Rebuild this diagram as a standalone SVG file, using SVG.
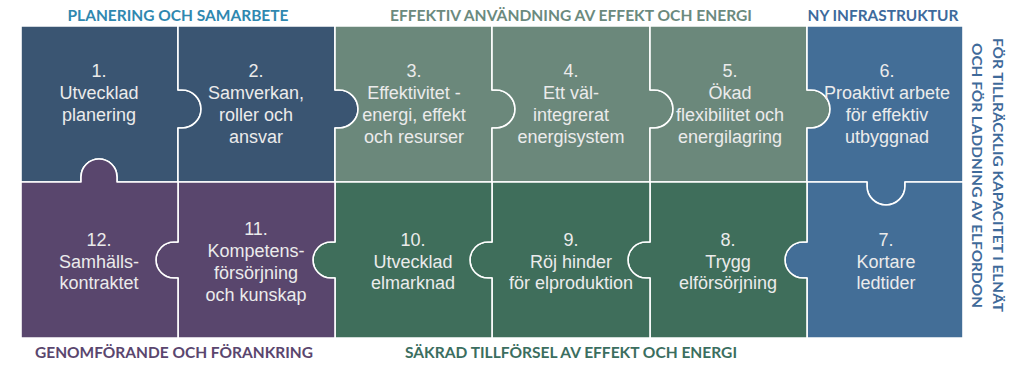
<svg xmlns="http://www.w3.org/2000/svg" width="1011" height="365" viewBox="0 0 1011 365">
<style>
.p{stroke:#ffffff;stroke-width:1.6;stroke-linejoin:round}
.c1{fill:#3a5572}.c2{fill:#6b887b}.c3{fill:#436e97}.c4{fill:#59466d}.c5{fill:#3f6e5b}
.t{font-family:"Liberation Sans",Arial,sans-serif;font-size:18px;fill:#ebebeb;text-anchor:middle}
.h{font-family:Lato,"Liberation Sans",sans-serif;font-weight:700;font-size:14.5px;text-anchor:middle}
.v{font-family:Lato,"Liberation Sans",sans-serif;font-weight:700;font-size:13.5px;text-anchor:middle;fill:#3f6a9a}
</style>
<rect width="1011" height="365" fill="#ffffff"/>
<g id="headers">
<text class="h" x="178" y="20.5" fill="#2f88b0" textLength="221" lengthAdjust="spacingAndGlyphs">PLANERING OCH SAMARBETE</text>
<text class="h" x="571" y="21" fill="#6b8a7e" textLength="362" lengthAdjust="spacingAndGlyphs">EFFEKTIV ANVÄNDNING AV EFFEKT OCH ENERGI</text>
<text class="h" x="883" y="20.5" fill="#3d6a9c" textLength="151" lengthAdjust="spacingAndGlyphs">NY INFRASTRUKTUR</text>
<text class="h" x="174" y="358" fill="#5a466e" textLength="278" lengthAdjust="spacingAndGlyphs">GENOMFÖRANDE OCH FÖRANKRING</text>
<text class="h" x="571" y="358" fill="#3b6e60" textLength="332" lengthAdjust="spacingAndGlyphs">SÄKRAD TILLFÖRSEL AV EFFEKT OCH ENERGI</text>
<text class="v" transform="translate(993,175) rotate(90)" textLength="274" lengthAdjust="spacingAndGlyphs">FÖR TILLRÄCKLIG KAPACITET I ELNÄT</text>
<text class="v" transform="translate(972,175.5) rotate(90)" textLength="265" lengthAdjust="spacingAndGlyphs">OCH FÖR LADDNING AV ELFORDON</text>
</g>
<g id="connectors"></g>
<g id="n1">
<path class="p c1" d="M21,26 H178 V90 H182 A19,19 0 0 1 182,128 H178 V182 H117 V177 A18,18 0 0 0 81,177 V182 H21 Z"/>
<text class="t" x="99"><tspan x="99" y="77">1.</tspan><tspan x="99" y="99">Utvecklad</tspan><tspan x="99" y="121">planering</tspan></text>
</g>
<g id="n2">
<path class="p c1" d="M178,26 H335 V90 H339 A19,19 0 0 1 339,128 H335 V182 H178 V128 H182 A19,19 0 0 0 182,90 H178 Z"/>
<text class="t"><tspan x="256" y="77">2.</tspan><tspan x="256" y="99">Samverkan,</tspan><tspan x="256" y="121">roller och</tspan><tspan x="256" y="143">ansvar</tspan></text>
</g>
<g id="n3">
<path class="p c2" d="M335,26 H492 V90 H496 A19,19 0 0 1 496,128 H492 V182 H335 V128 H339 A19,19 0 0 0 339,90 H335 Z"/>
<text class="t"><tspan x="414" y="77">3.</tspan><tspan x="414" y="99">Effektivitet -</tspan><tspan x="414" y="121">energi, effekt</tspan><tspan x="414" y="143">och resurser</tspan></text>
</g>
<g id="n4">
<path class="p c2" d="M492,26 H650 V90 H654 A19,19 0 0 1 654,128 H650 V182 H492 V128 H496 A19,19 0 0 0 496,90 H492 Z"/>
<text class="t"><tspan x="571" y="77">4.</tspan><tspan x="571" y="99">Ett väl-</tspan><tspan x="571" y="121">integrerat</tspan><tspan x="571" y="143">energisystem</tspan></text>
</g>
<g id="n5">
<path class="p c2" d="M650,26 H807 V90 H811 A19,19 0 0 1 811,128 H807 V182 H650 V128 H654 A19,19 0 0 0 654,90 H650 Z"/>
<text class="t"><tspan x="730" y="77">5.</tspan><tspan x="730" y="99">Ökad</tspan><tspan x="730" y="121">flexibilitet och</tspan><tspan x="730" y="143">energilagring</tspan></text>
</g>
<g id="n6">
<path class="p c3" d="M807,26 H963 V182 H905 V186 A19,19 0 0 1 867,186 V182 H807 V128 H811 A19,19 0 0 0 811,90 H807 Z"/>
<text class="t"><tspan x="887" y="77">6.</tspan><tspan x="887" y="99">Proaktivt arbete</tspan><tspan x="887" y="121">för effektiv</tspan><tspan x="887" y="143">utbyggnad</tspan></text>
</g>
<g id="n7">
<path class="p c3" d="M807,182 H867 V186 A19,19 0 0 0 905,186 V182 H963 V338 H807 V278 H803 A18,18 0 0 1 803,242 H807 Z"/>
<text class="t"><tspan x="886" y="246">7.</tspan><tspan x="886" y="268">Kortare</tspan><tspan x="886" y="289">ledtider</tspan></text>
</g>
<g id="n8">
<path class="p c5" d="M650,182 H807 V242 H803 A18,18 0 0 0 803,278 H807 V338 H650 V278 H646 A18,18 0 0 1 646,242 H650 Z"/>
<text class="t"><tspan x="728" y="246">8.</tspan><tspan x="728" y="268">Trygg</tspan><tspan x="728" y="289">elförsörjning</tspan></text>
</g>
<g id="n9">
<path class="p c5" d="M492,182 H650 V242 H646 A18,18 0 0 0 646,278 H650 V338 H492 V278 H488 A18,18 0 0 1 488,242 H492 Z"/>
<text class="t"><tspan x="571" y="246">9.</tspan><tspan x="571" y="268">Röj hinder</tspan><tspan x="571" y="289">för elproduktion</tspan></text>
</g>
<g id="n10">
<path class="p c5" d="M335,182 H492 V242 H488 A18,18 0 0 0 488,278 H492 V338 H335 V278 H331 A18,18 0 0 1 331,242 H335 Z"/>
<text class="t"><tspan x="413" y="246">10.</tspan><tspan x="413" y="268">Utvecklad</tspan><tspan x="413" y="289">elmarknad</tspan></text>
</g>
<g id="n11">
<path class="p c4" d="M178,182 H335 V242 H331 A18,18 0 0 0 331,278 H335 V338 H178 V278 H174 A18,18 0 0 1 174,242 H178 Z"/>
<text class="t"><tspan x="256" y="235">11.</tspan><tspan x="256" y="257">Kompetens-</tspan><tspan x="256" y="279">försörjning</tspan><tspan x="256" y="301">och kunskap</tspan></text>
</g>
<g id="n12">
<path class="p c4" d="M21,182 H81 V177 A18,18 0 0 1 117,177 V182 H178 V242 H174 A18,18 0 0 0 174,278 H178 V338 H21 Z"/>
<text class="t"><tspan x="99" y="246">12.</tspan><tspan x="99" y="268">Samhälls-</tspan><tspan x="99" y="289">kontraktet</tspan></text>
</g>
</svg>
